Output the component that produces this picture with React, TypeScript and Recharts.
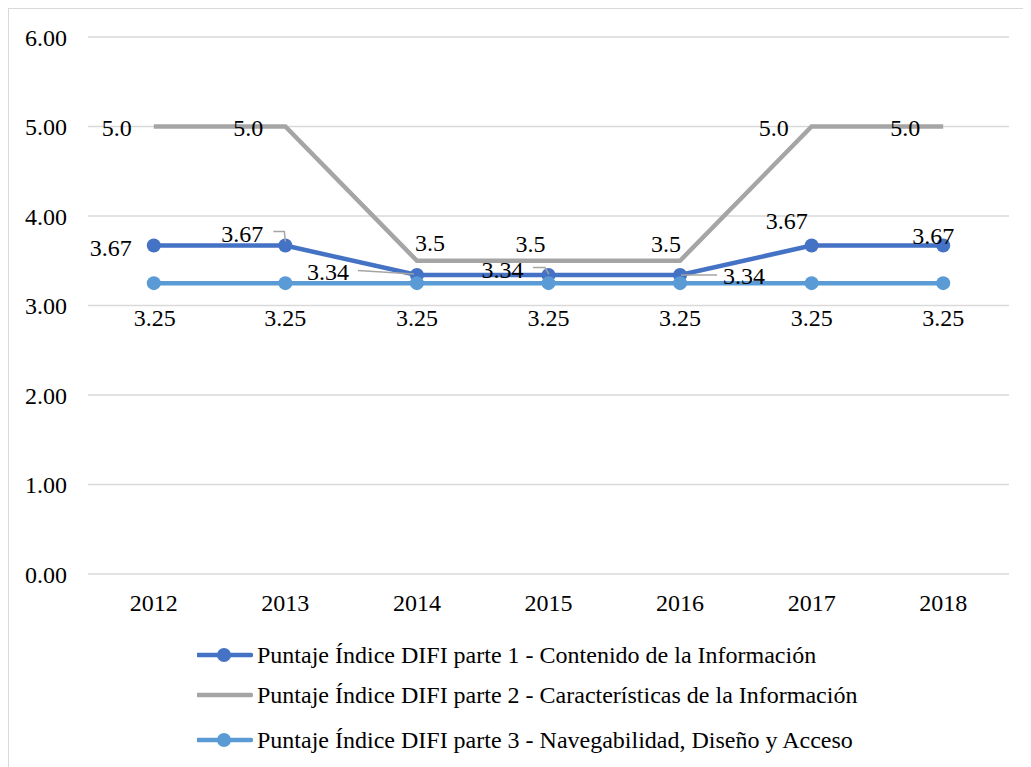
import React from "react";
import { LineChart, Line, XAxis, YAxis, CartesianGrid, LabelList } from "recharts";

const years = ["2012", "2013", "2014", "2015", "2016", "2017", "2018"];
const parte1 = [3.67, 3.67, 3.34, 3.34, 3.34, 3.67, 3.67];
const parte2 = [5.0, 5.0, 3.5, 3.5, 3.5, 5.0, 5.0];
const parte3 = [3.25, 3.25, 3.25, 3.25, 3.25, 3.25, 3.25];
const labels1 = ["3.67", "3.67", "3.34", "3.34", "3.34", "3.67", "3.67"];
const labels2 = ["5.0", "5.0", "3.5", "3.5", "3.5", "5.0", "5.0"];
const labels3 = ["3.25", "3.25", "3.25", "3.25", "3.25", "3.25", "3.25"];
const seriesNames = [
  "Puntaje Índice DIFI parte 1 - Contenido de la Información",
  "Puntaje Índice DIFI parte 2 - Características de la Información",
  "Puntaje Índice DIFI parte 3 - Navegabilidad, Diseño y Acceso",
];
const yTicks = [0, 1, 2, 3, 4, 5, 6];

const data = years.map((y, i) => ({ year: y, s1: parte1[i], s2: parte2[i], s3: parte3[i] }));

const FONT = "'Liberation Serif', 'Times New Roman', serif";
const FS = 24;
const C1 = "#4472C4";
const C2 = "#A5A5A5";
const C3 = "#5B9BD5";

// label placement (relative to point) – styling only
const off1: [number, number][] = [[-43, 2], [-43, -12], [-89, -3], [-46, -5], [64, 1], [-25, -25], [-10, -10]];
const lead1: ([number, number][] | null)[] = [
  null,
  [[-12, -14], [-1, -14], [0, -4]],
  [[-59, -4.6], [-3, -1]],
  [[-15.6, -7.6], [-3.6, -7.6], [0.4, -1]],
  [[1, 0], [37, 0]],
  null,
  null,
];
const off2: [number, number][] = [[-37, 1], [-37, 1], [13, -18], [-18, -17], [-14, -17], [-38, 1], [-38, 1]];
const off3: [number, number][] = [[1, 35], [0, 35], [0, 35], [0, 35], [0, 35], [0, 35], [0, 35]];

function makeLabel(texts: string[], offs: [number, number][], leads?: ([number, number][] | null)[]) {
  return (p: any) => {
    const { x, y, index } = p;
    if (x == null || y == null) return null;
    const [dx, dy] = offs[index];
    const lead = leads ? leads[index] : null;
    return (
      <g key={"l" + index}>
        {lead && (
          <polyline
            points={lead.map(([a, b]) => `${x + a},${y + b}`).join(" ")}
            fill="none"
            stroke="#A5A5A5"
            strokeWidth={1.5}
          />
        )}
        <text
          x={x + dx}
          y={y + dy}
          textAnchor="middle"
          dominantBaseline="central"
          fontFamily={FONT}
          fontSize={FS}
          fill="#000"
        >
          {texts[index]}
        </text>
      </g>
    );
  };
}

function LegendRow({ color, dot, text, top }: { color: string; dot: boolean; text: string; top: number }) {
  return (
    <div style={{ position: "absolute", left: 188, top: top - 20, height: 40, display: "flex", alignItems: "center" }}>
      <svg width={56} height={20} style={{ display: "block" }}>
        <line x1={1} y1={10} x2={54} y2={10} stroke={color} strokeWidth={4.5} strokeLinecap="round" />
        {dot && <circle cx={27} cy={10} r={7} fill={color} />}
      </svg>
      <span style={{ fontFamily: FONT, fontSize: FS, color: "#000", marginLeft: 4, whiteSpace: "nowrap" }}>{text}</span>
    </div>
  );
}

export default function App() {
  return (
    <div
      style={{
        position: "relative",
        width: 1023,
        height: 759,
        borderTop: "1px solid #D9D9D9",
        borderLeft: "1px solid #D9D9D9",
        boxSizing: "border-box",
        background: "#fff",
      }}
    >
      <LineChart
        width={1022}
        height={758}
        data={data}
        margin={{ top: 28, right: 22, left: 0, bottom: 145 }}
      >
        <CartesianGrid horizontal vertical={false} stroke="#D9D9D9" strokeWidth={1.5} />
        <XAxis
          dataKey="year"
          axisLine={false}
          tickLine={false}
          tickSize={0}
          tickMargin={20}
          height={48}
          padding={{ left: 65.8, right: 65.8 }}
          tick={{ fontFamily: FONT, fontSize: FS, fill: "#000" }}
        />
        <YAxis
          domain={[0, 6]}
          ticks={yTicks}
          width={79}
          axisLine={false}
          tickLine={false}
          tickSize={0}
          tickMargin={21}
          tickFormatter={(v: number) => v.toFixed(2)}
          tick={{ fontFamily: FONT, fontSize: FS, fill: "#000" }}
        />
        <Line
          dataKey="s1"
          stroke={C1}
          strokeWidth={4.5}
          dot={{ r: 7, fill: C1, stroke: C1, strokeWidth: 0 }}
          isAnimationActive={false}
        >
          <LabelList dataKey="s1" content={makeLabel(labels1, off1, lead1)} />
        </Line>
        <Line dataKey="s2" stroke={C2} strokeWidth={4.5} dot={false} isAnimationActive={false}>
          <LabelList dataKey="s2" content={makeLabel(labels2, off2)} />
        </Line>
        <Line
          dataKey="s3"
          stroke={C3}
          strokeWidth={4.5}
          dot={{ r: 7, fill: C3, stroke: C3, strokeWidth: 0 }}
          isAnimationActive={false}
        >
          <LabelList dataKey="s3" content={makeLabel(labels3, off3)} />
        </Line>
      </LineChart>
      <LegendRow color={C1} dot text={seriesNames[0]} top={646} />
      <LegendRow color={C2} dot={false} text={seriesNames[1]} top={686} />
      <LegendRow color={C3} dot text={seriesNames[2]} top={731} />
    </div>
  );
}
